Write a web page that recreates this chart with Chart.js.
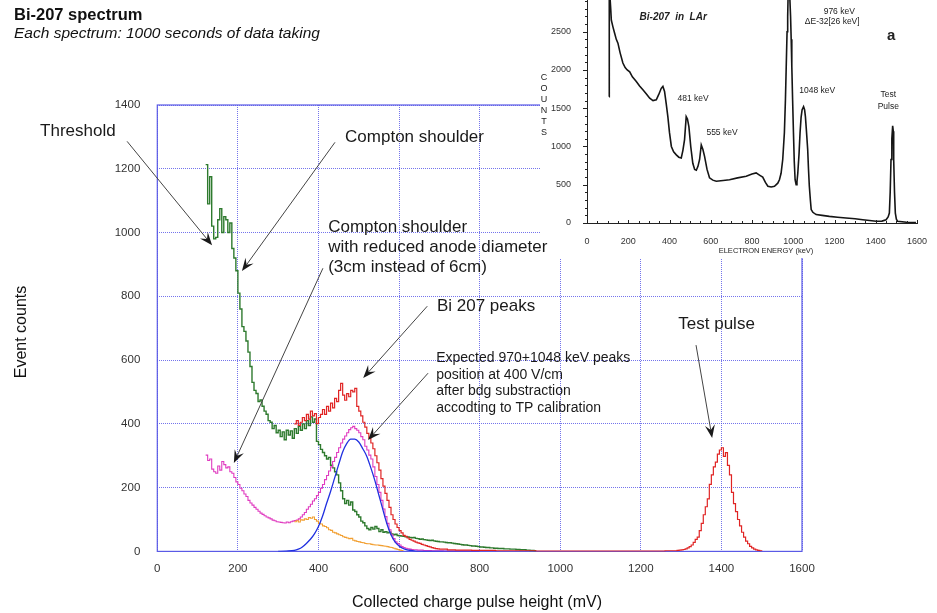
<!DOCTYPE html>
<html>
<head>
<meta charset="utf-8">
<title>Bi-207 spectrum</title>
<script src="https://cdn.jsdelivr.net/npm/chart.js@4.4.1/dist/chart.umd.min.js"></script>
<style>
  html, body { margin: 0; padding: 0; background: #fff; }
  #wrap { position: relative; width: 937px; height: 613px; overflow: hidden; }
  #main { position: absolute; left: 0; top: 0; width: 937px; height: 613px; }
  #inset { position: absolute; left: 538px; top: 0; width: 399px; height: 258px; filter: blur(0.35px); }
</style>
</head>
<body>
<div id="wrap">
  <canvas id="main" width="937" height="613"></canvas>
  <canvas id="inset" width="399" height="258"></canvas>
</div>
<script>
// ---- main spectrum data (mV bins, event counts) ----
const binWidth = 5;

const greenStart = 120;
const greenCounts = [
  1213, 1090, 1175, 1020, 980, 985, 1040, 1075, 1000, 1050,
  1040, 1000, 1030, 950, 920, 880, 810, 760, 705, 690,
  660, 625, 580, 530, 505, 495, 470, 475, 455, 440,
  430, 410, 405, 385, 395, 372, 380, 360, 375, 350,
  380, 365, 378, 355, 385, 370, 392, 380, 400, 385,
  410, 395, 422, 405, 415, 345, 335, 320, 310, 300,
  290, 295, 270, 262, 250, 240, 215, 190, 165, 150,
  160, 145, 155, 130, 125, 115, 108, 95, 90, 80,
  72, 68, 75, 70, 78, 72, 62, 68, 60, 62,
  58, 60, 55, 52, 54, 50, 49, 48, 47, 46,
  45, 44, 43, 44, 41, 40, 38, 39, 37, 36,
  35, 34, 35, 33, 32, 31, 30, 30, 29, 28,
  27, 27, 26, 25, 24, 23, 22, 21, 20, 20,
  19, 18, 17, 17, 16, 15, 14, 14, 13, 12,
  12, 11, 11, 10, 10, 9, 9, 9, 8, 8,
  8, 7, 7, 7, 6, 6, 5, 5, 5, 4,
  4, 3, 3, 2, 2
];

const redPeakStart = 340;
const redPeakCounts = [
  400, 410, 395, 405, 420, 410, 430, 415, 440, 425,
  432, 401, 420, 430, 445, 430, 455, 440, 465, 450,
  480, 470, 505, 527, 490, 474, 495, 485, 505, 500,
  511, 455, 440, 425, 405, 390, 370, 355, 340, 322,
  300, 278, 255, 228, 205, 182, 160, 138, 115, 100,
  86, 75, 65, 58, 50, 47, 42, 38, 35, 32,
  29, 27, 25, 22, 20, 18, 16, 14, 12, 10,
  9, 8
];
const redBaseStart = 700;
const redBaseWidth = 20;
const redBaseCounts = [7, 5, 4, 4, 3, 3, 3, 2, 2, 2, 2, 2, 1, 1, 1, 1, 1, 1, 1, 1, 1, 1, 1, 1, 1, 1, 1, 1, 2];
const pulseStart = 1280;
const pulseCounts = [
  2, 2, 3, 4, 5, 6, 8, 11, 15, 20,
  28, 38, 45, 65, 88, 115, 140, 165, 210, 240,
  265, 280, 305, 318, 325, 298, 310, 270, 240, 185,
  150, 125, 100, 80, 60, 45, 32, 24, 16, 11,
  7, 5, 3, 2, 1
];

const magentaStart = 120;
const magentaCounts = [
  302, 285, 290, 258, 250, 245, 268, 255, 282, 272,
  262, 265, 250, 245, 232, 218, 210, 198, 190, 180,
  172, 160, 152, 145, 138, 132, 126, 120, 116, 112,
  108, 105, 102, 98, 96, 93, 92, 91, 90, 89,
  92, 90, 93, 95, 97, 98, 102, 108, 115, 122,
  132, 140, 148, 158, 165, 175, 185, 198, 210, 225,
  238, 252, 265, 282, 295, 310, 325, 340, 352, 362,
  372, 382, 388, 392, 385, 380, 372, 360, 350, 330,
  318, 302, 290, 265, 235, 210, 185, 160, 133, 109,
  88, 68, 52, 40, 30, 25, 20, 15, 12, 10,
  8, 7, 6, 5, 5, 4, 4, 4, 3, 3,
  3, 3, 2, 2, 2, 2, 2, 2, 1, 1,
  1, 1, 1, 1, 1, 1, 1, 1, 1, 1,
  1, 1, 1, 1, 1, 1, 1
];

const orangeStart = 340;
const orangeCounts = [
  93, 96, 92, 99, 98, 102, 100, 106, 104, 108,
  100, 95, 88, 86, 80, 78, 74, 68, 66, 60,
  58, 55, 52, 50, 46, 44, 42, 40, 41, 35,
  33, 31, 30, 28, 27, 25, 24, 24, 22, 21,
  20, 20, 19, 18, 17, 16, 15, 13, 12, 10,
  8, 6, 4, 3, 2
];

const blueMv = [300, 320, 340, 350, 360, 370, 380, 390, 400, 410, 420, 430, 440, 450, 460, 470, 480, 490, 500, 510,
  520, 530, 540, 550, 560, 570, 580, 590, 600, 610, 620, 630, 640, 650, 700, 800];
const blueCounts = [0, 1, 3, 7, 14, 25, 38, 55, 78, 110, 150, 188, 230, 272, 312, 338, 352, 352, 343, 322,
  298, 262, 222, 176, 130, 86, 52, 30, 17, 9, 5, 3, 1, 0, 0, 0];

// ---- inset (Bi-207 in LAr, electron energy keV vs counts) ----
const insetEnergy = [107, 108, 115, 118, 126, 134, 142, 150, 160, 174, 185, 195, 207, 220, 239, 255, 271, 290, 304, 320,
  336, 348, 360, 368, 376, 384, 392, 400, 409, 420, 433, 445, 457, 465, 473, 481, 487, 494, 503, 513,
  522, 530, 538, 546, 554, 562, 570, 582, 594, 610, 627, 660, 691, 730, 772, 800, 820, 840, 852, 865,
  877, 893, 909, 925, 933, 941, 949, 957, 962, 966, 970, 973, 976, 981, 987, 990, 993, 997, 1001, 1005,
  1009, 1014, 1018, 1022, 1028, 1033, 1038, 1043, 1050, 1055, 1059, 1064, 1070, 1074, 1078, 1083, 1087, 1095, 1111, 1140,
  1175, 1215, 1256, 1300, 1337, 1370, 1402, 1430, 1450, 1460, 1466, 1470, 1474, 1478, 1482, 1485, 1487, 1491, 1495, 1500,
  1506, 1550, 1595];
const insetCounts = [1650, 3100, 2800, 2650, 2560, 2480, 2400, 2350, 2230, 2090, 2030, 2000, 1975, 1910, 1850, 1790, 1740, 1680, 1630, 1600,
  1610, 1680, 1760, 1785, 1720, 1560, 1390, 1180, 1000, 930, 890, 860, 850, 950, 1090, 1390, 1360, 1260, 1000, 780,
  700, 690, 740, 830, 1020, 960, 870, 700, 590, 560, 545, 555, 565, 590, 610, 640, 655, 620, 600, 530,
  480, 470, 480, 520, 565, 650, 830, 1180, 1600, 2050, 2500, 2700, 3100, 3100, 2700, 2400, 2050, 1600, 1180, 800,
  565, 500, 540, 650, 900, 1180, 1380, 1480, 1520, 1480, 1390, 1200, 960, 700, 480, 300, 175, 140, 110, 100,
  87, 75, 65, 55, 43, 32, 22, 25, 43, 80, 130, 400, 830, 1100, 1270, 1200, 830, 400, 130, 50,
  22, 10, 5];
const insetYTicks = [0, 500, 1000, 1500, 2000, 2500];

const FONT = '"Liberation Sans", Arial, Helvetica, sans-serif';
Chart.defaults.font.family = FONT;

function histo(start, width, counts) {
  return counts.map((c, i) => ({ x: start + i * width, y: c }));
}
function pairs(xs, ys) {
  return xs.map((x, i) => ({ x: x, y: ys[i] }));
}
const plain = v => String(v);

function arrow(ctx, x0, y0, x1, y1) {
  const ang = Math.atan2(y1 - y0, x1 - x0);
  const len = 13, half = 5, notch = 8;
  ctx.beginPath();
  ctx.moveTo(x0, y0);
  ctx.lineTo(x1 - notch * Math.cos(ang), y1 - notch * Math.sin(ang));
  ctx.stroke();
  ctx.save();
  ctx.translate(x1, y1);
  ctx.rotate(ang);
  ctx.beginPath();
  ctx.moveTo(0, 0);
  ctx.lineTo(-len, -half);
  ctx.lineTo(-notch, 0);
  ctx.lineTo(-len, half);
  ctx.closePath();
  ctx.fill();
  ctx.restore();
}

// annotation text in data coordinates (mV, counts)
const notes = [
  { lines: ['Threshold'], at: [-291, 1318], from: [-75, 1286], to: [136, 960], size: 17, gap: 20 },
  { lines: ['Compton shoulder'], at: [466, 1299], from: [441, 1283], to: [210, 879], size: 17, gap: 20 },
  { lines: ['Compton shoulder', 'with reduced anode diameter', '(3cm instead of 6cm)'], at: [424, 1017], from: [411, 888], to: [190, 277], size: 17, gap: 20 },
  { lines: ['Bi 207 peaks'], at: [694, 769], from: [670, 769], to: [511, 544], size: 17, gap: 20 },
  { lines: ['Expected 970+1048 keV peaks', 'position at 400 V/cm', 'after bdg substraction', 'accodting to TP calibration'], at: [692, 606], from: [672, 559], to: [523, 349], size: 14, gap: 16.7 },
  { lines: ['Test pulse'], at: [1293, 713], from: [1337, 647], to: [1377, 356], size: 17, gap: 20 }
];

const mainDecor = {
  id: 'mainDecor',
  beforeDatasetsDraw(chart) {
    const { ctx, chartArea: a } = chart;
    ctx.save();
    ctx.strokeStyle = '#5a5ae6';
    ctx.lineWidth = 1.2;
    ctx.strokeRect(a.left, a.top, a.right - a.left, a.bottom - a.top);
    ctx.fillStyle = '#fff';
    ctx.fillRect(540, 0, 397, 258);
    ctx.restore();
  },
  afterDatasetsDraw(chart) {
    const { ctx, scales: { x, y } } = chart;
    ctx.save();
    ctx.fillStyle = '#1a1a1a';
    ctx.strokeStyle = '#444';
    ctx.lineWidth = 1;
    notes.forEach(n => {
      ctx.font = n.size + 'px ' + FONT;
      ctx.textAlign = 'left';
      ctx.textBaseline = 'middle';
      const tx = x.getPixelForValue(n.at[0]);
      const ty = y.getPixelForValue(n.at[1]);
      n.lines.forEach((l, i) => ctx.fillText(l, tx, ty + i * n.gap));
      arrow(ctx, x.getPixelForValue(n.from[0]), y.getPixelForValue(n.from[1]),
        x.getPixelForValue(n.to[0]), y.getPixelForValue(n.to[1]));
    });
    // titles
    ctx.fillStyle = '#111';
    ctx.font = 'bold 16.5px ' + FONT;
    ctx.fillText('Bi-207 spectrum', 14, 15);
    ctx.font = 'italic 15.5px ' + FONT;
    ctx.fillText('Each spectrum: 1000 seconds of data taking', 14, 34);
    // axis titles
    ctx.font = '16px ' + FONT;
    ctx.textAlign = 'center';
    ctx.fillText('Collected charge pulse height (mV)', 477, 603);
    ctx.translate(22, 332);
    ctx.rotate(-Math.PI / 2);
    ctx.fillText('Event counts', 0, 0);
    ctx.restore();
  }
};

new Chart(document.getElementById('main'), {
  type: 'line',
  data: {
    datasets: [
      { label: 'Bi-207 spectrum', data: histo(greenStart, binWidth, greenCounts), borderColor: '#2e7a2e', borderWidth: 1.4, stepped: true, order: 5 },
      { label: 'Reduced anode', data: histo(magentaStart, binWidth, magentaCounts), borderColor: '#e03cc0', borderWidth: 1.1, stepped: true, order: 4 },
      { label: 'Background', data: histo(orangeStart, binWidth, orangeCounts), borderColor: '#f2a032', borderWidth: 1.1, stepped: true, order: 3 },
      { label: 'Expected', data: pairs(blueMv, blueCounts), borderColor: '#2030e0', borderWidth: 1.3, cubicInterpolationMode: 'monotone', order: 2 },
      { label: 'Bi 207 peaks + test pulse', data: histo(redPeakStart, binWidth, redPeakCounts)
          .concat(histo(redBaseStart, redBaseWidth, redBaseCounts))
          .concat(histo(pulseStart, binWidth, pulseCounts)),
        borderColor: '#e02424', borderWidth: 1.2, stepped: true, order: 1 }
    ]
  },
  options: {
    responsive: false,
    animation: false,
    elements: { point: { radius: 0 } },
    layout: { padding: { top: 105, right: 135, left: 0, bottom: 0 } },
    plugins: { legend: { display: false }, tooltip: { enabled: false } },
    scales: {
      x: {
        type: 'linear', min: 0, max: 1600,
        ticks: { stepSize: 200, color: '#333', font: { size: 11.5 }, padding: 11, maxRotation: 0, callback: plain },
        grid: { color: 'rgba(70,70,230,0.75)', lineWidth: 1, drawTicks: false },
        border: { display: false, dash: [1, 1] },
        afterFit: s => { s.height = 61.6; }
      },
      y: {
        min: 0, max: 1400,
        ticks: { stepSize: 200, color: '#333', font: { size: 11.5 }, padding: 17, callback: plain },
        grid: { color: 'rgba(70,70,230,0.75)', lineWidth: 1, drawTicks: false },
        border: { display: false, dash: [1, 1] },
        afterFit: s => { s.width = 157.3; }
      }
    }
  },
  plugins: [mainDecor]
});

// inset labels in data coordinates (keV, counts)
const insetNotes = [
  { text: 'Bi-207  in  LAr', at: [255, 2694], font: 'bold italic 10px ', align: 'left' },
  { text: '976 keV', at: [1223, 2757], font: '8.5px ', align: 'center' },
  { text: 'ΔE-32[26 keV]', at: [1189, 2627], font: '8.5px ', align: 'center' },
  { text: 'a', at: [1475, 2444], font: 'bold 15px ', align: 'center' },
  { text: '481 keV', at: [439, 1622], font: '8.5px ', align: 'left' },
  { text: '555 keV', at: [579, 1178], font: '8.5px ', align: 'left' },
  { text: '1048 keV', at: [1029, 1727], font: '8.5px ', align: 'left' },
  { text: 'Test', at: [1461, 1674], font: '8.5px ', align: 'center' },
  { text: 'Pulse', at: [1461, 1517], font: '8.5px ', align: 'center' }
];

const insetDecor = {
  id: 'insetDecor',
  afterDraw(chart) {
    const { ctx, chartArea: a, scales: { x, y } } = chart;
    ctx.save();
    ctx.strokeStyle = '#222';
    ctx.lineWidth = 1;
    for (let v = 0; v <= 2900; v += 100) {
      const py = Math.round(y.getPixelForValue(v)) + 0.5;
      ctx.beginPath();
      ctx.moveTo(a.left - (v % 500 === 0 ? 4 : 2), py);
      ctx.lineTo(a.left, py);
      ctx.stroke();
    }
    for (let v = 0; v <= 1600; v += 50) {
      const px = Math.round(x.getPixelForValue(v)) + 0.5;
      ctx.beginPath();
      ctx.moveTo(px, a.bottom);
      ctx.lineTo(px, a.bottom - (v % 200 === 0 ? 3 : 2));
      ctx.stroke();
    }
    ctx.fillStyle = '#222';
    ctx.textBaseline = 'middle';
    insetNotes.forEach(n => {
      ctx.font = n.font + FONT;
      ctx.textAlign = n.align;
      ctx.fillText(n.text, x.getPixelForValue(n.at[0]), y.getPixelForValue(n.at[1]));
    });
    ctx.font = '9px ' + FONT;
    ctx.textAlign = 'center';
    'COUNTS'.split('').forEach((c, i) => ctx.fillText(c, 6, 78 + i * 11));
    ctx.font = '7.5px ' + FONT;
    ctx.fillText('ELECTRON ENERGY (keV)', 228, 251);
    ctx.restore();
  }
};

new Chart(document.getElementById('inset'), {
  type: 'line',
  data: {
    datasets: [{ label: 'Bi-207 in LAr', data: pairs(insetEnergy, insetCounts), borderColor: '#151515', borderWidth: 1.6, pointRadius: 0 }]
  },
  options: {
    responsive: false,
    animation: false,
    layout: { padding: { top: 0, right: 20, left: 0, bottom: 0 } },
    plugins: { legend: { display: false }, tooltip: { enabled: false } },
    scales: {
      x: {
        type: 'linear', min: 0, max: 1600,
        ticks: { stepSize: 200, color: '#333', font: { size: 9 }, padding: 5, maxRotation: 0, autoSkip: false, callback: plain },
        grid: { display: false },
        border: { color: '#222', width: 1 },
        afterFit: s => { s.height = 35; s.paddingLeft = 0; s.paddingRight = 0; }
      },
      y: {
        min: 0, max: 2914,
        afterBuildTicks: s => { s.ticks = insetYTicks.map(v => ({ value: v })); },
        ticks: { color: '#333', font: { size: 9 }, padding: 8, autoSkip: false, callback: plain },
        grid: { display: false },
        border: { color: '#222', width: 1 },
        afterFit: s => { s.width = 49; s.paddingTop = 0; s.paddingBottom = 0; }
      }
    }
  },
  plugins: [insetDecor]
});
</script>
</body>
</html>
